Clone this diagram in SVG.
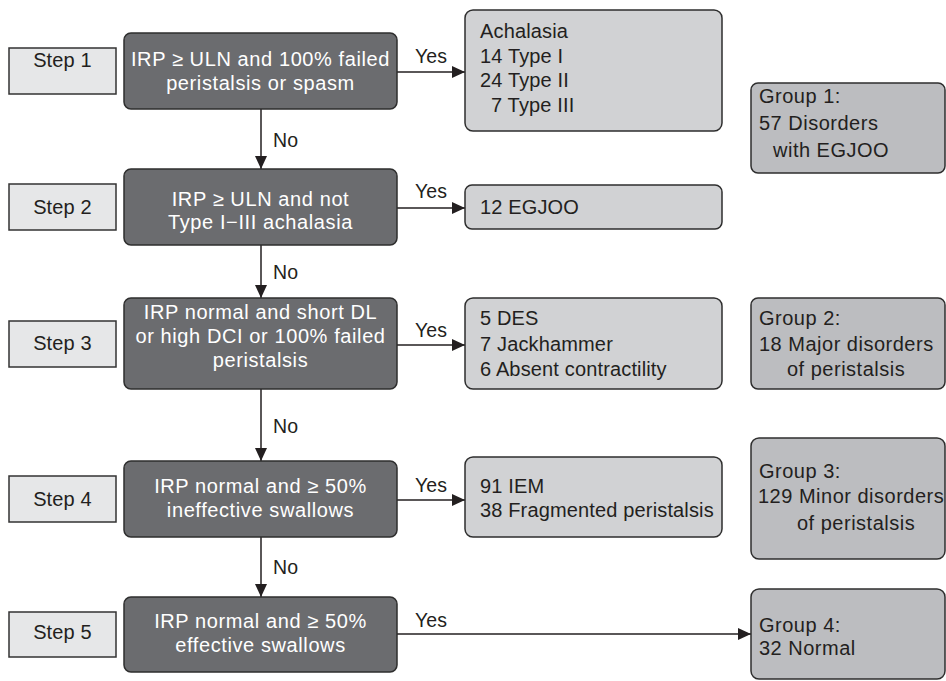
<svg xmlns="http://www.w3.org/2000/svg" width="946" height="681" viewBox="0 0 946 681">
<defs>
<marker id="ah" markerUnits="userSpaceOnUse" markerWidth="14" markerHeight="14" viewBox="0 0 14 14" refX="13" refY="7" orient="auto">
<path d="M0,1 L13,7 L0,13 Z" fill="#231f20"/>
</marker>
<style>
.step{fill:#e6e7e8;stroke:#333;stroke-width:1.5}
.dec{fill:#6b6c6f;stroke:#2e2e2e;stroke-width:1.5}
.res{fill:#d1d2d4;stroke:#2e2e2e;stroke-width:1.5}
.grp{fill:#bcbdc0;stroke:#2e2e2e;stroke-width:1.5}
text{font-family:"Liberation Sans",Arial,sans-serif;font-size:20px;fill:#231f20;letter-spacing:0.15px}
.w{fill:#ffffff;text-anchor:middle;letter-spacing:0.6px}
.c{text-anchor:middle}
.lbl{font-size:19.5px}
.g{letter-spacing:0.5px}
.con{stroke:#231f20;stroke-width:1.5;fill:none;marker-end:url(#ah)}
</style>
</defs>
<rect width="946" height="681" fill="#ffffff"/>
<g id="connectors">
<line class="con" x1="397" y1="72" x2="465" y2="72"/>
<line class="con" x1="397" y1="208" x2="465" y2="208"/>
<line class="con" x1="397" y1="345" x2="465" y2="345"/>
<line class="con" x1="397" y1="500" x2="465" y2="500"/>
<line class="con" x1="397" y1="634" x2="751" y2="634"/>
<line class="con" x1="261" y1="109" x2="261" y2="169"/>
<line class="con" x1="261" y1="245" x2="261" y2="298"/>
<line class="con" x1="261" y1="389" x2="261" y2="461"/>
<line class="con" x1="261" y1="537" x2="261" y2="597"/>
<text class="lbl" x="415" y="63">Yes</text>
<text class="lbl" x="415" y="198">Yes</text>
<text class="lbl" x="415" y="337">Yes</text>
<text class="lbl" x="415" y="492">Yes</text>
<text class="lbl" x="415" y="627">Yes</text>
<text class="lbl" x="273" y="147">No</text>
<text class="lbl" x="273" y="279">No</text>
<text class="lbl" x="273" y="433">No</text>
<text class="lbl" x="273" y="574">No</text>
</g>
<g id="step1"><rect class="step" x="9" y="48" width="107" height="46"/><text class="c" x="62.5" y="67">Step 1</text></g>
<g id="step2"><rect class="step" x="9" y="184" width="107" height="46"/><text class="c" x="62.5" y="213.5">Step 2</text></g>
<g id="step3"><rect class="step" x="9" y="321" width="107" height="46"/><text class="c" x="62.5" y="349.5">Step 3</text></g>
<g id="step4"><rect class="step" x="9" y="476" width="107" height="46"/><text class="c" x="62.5" y="506">Step 4</text></g>
<g id="step5"><rect class="step" x="9" y="612" width="107" height="45"/><text class="c" x="62.5" y="639">Step 5</text></g>
<g id="dec1"><rect class="dec" x="124" y="33" width="273" height="76" rx="7"/>
<text class="w" x="260.5" y="66">IRP ≥ ULN and 100% failed</text>
<text class="w" x="260.5" y="90">peristalsis or spasm</text></g>
<g id="dec2"><rect class="dec" x="124" y="169" width="273" height="76" rx="7"/>
<text class="w" x="260.5" y="205.5">IRP ≥ ULN and not</text>
<text class="w" x="260.5" y="229">Type I−III achalasia</text></g>
<g id="dec3"><rect class="dec" x="124" y="298" width="273" height="91" rx="7"/>
<text class="w" x="260.5" y="319">IRP normal and short DL</text>
<text class="w" x="260.5" y="343">or high DCI or 100% failed</text>
<text class="w" x="260.5" y="367">peristalsis</text></g>
<g id="dec4"><rect class="dec" x="124" y="461" width="273" height="76" rx="7"/>
<text class="w" x="260.5" y="493">IRP normal and ≥ 50%</text>
<text class="w" x="260.5" y="517">ineffective swallows</text></g>
<g id="dec5"><rect class="dec" x="124" y="597" width="273" height="75" rx="7"/>
<text class="w" x="260.5" y="628">IRP normal and ≥ 50%</text>
<text class="w" x="260.5" y="652">effective swallows</text></g>
<g id="res1"><rect class="res" x="465" y="10" width="257" height="121" rx="8"/>
<text x="480" y="38">Achalasia</text>
<text x="480" y="63">14 Type I</text>
<text x="480" y="87">24 Type II</text>
<text x="491" y="112">7 Type III</text></g>
<g id="res2"><rect class="res" x="465" y="185" width="257" height="44" rx="7"/>
<text x="480" y="214">12 EGJOO</text></g>
<g id="res3"><rect class="res" x="465" y="298" width="257" height="91" rx="8"/>
<text x="480" y="325">5 DES</text>
<text x="480" y="351">7 Jackhammer</text>
<text x="480" y="376">6 Absent contractility</text></g>
<g id="res4"><rect class="res" x="465" y="457" width="257" height="80" rx="8"/>
<text x="480" y="493">91 IEM</text>
<text x="480" y="517">38 Fragmented peristalsis</text></g>
<g id="grp1"><rect class="grp" x="751" y="83" width="194" height="90" rx="7"/>
<text class="g" x="759" y="103">Group 1:</text>
<text class="g" x="759" y="130">57 Disorders</text>
<text class="g" x="773" y="157">with EGJOO</text></g>
<g id="grp2"><rect class="grp" x="751" y="298" width="194" height="91" rx="7"/>
<text class="g" x="759" y="325">Group 2:</text>
<text class="g" x="759" y="351">18 Major disorders</text>
<text class="g" x="787" y="376">of peristalsis</text></g>
<g id="grp3"><rect class="grp" x="751" y="438" width="194" height="121" rx="8"/>
<text class="g" x="759" y="478">Group 3:</text>
<text class="g" x="758" y="503">129 Minor disorders</text>
<text class="g" x="797" y="530">of peristalsis</text></g>
<g id="grp4"><rect class="grp" x="751" y="589" width="194" height="90" rx="8"/>
<text class="g" x="759" y="632">Group 4:</text>
<text class="g" x="759" y="655">32 Normal</text></g>
</svg>
